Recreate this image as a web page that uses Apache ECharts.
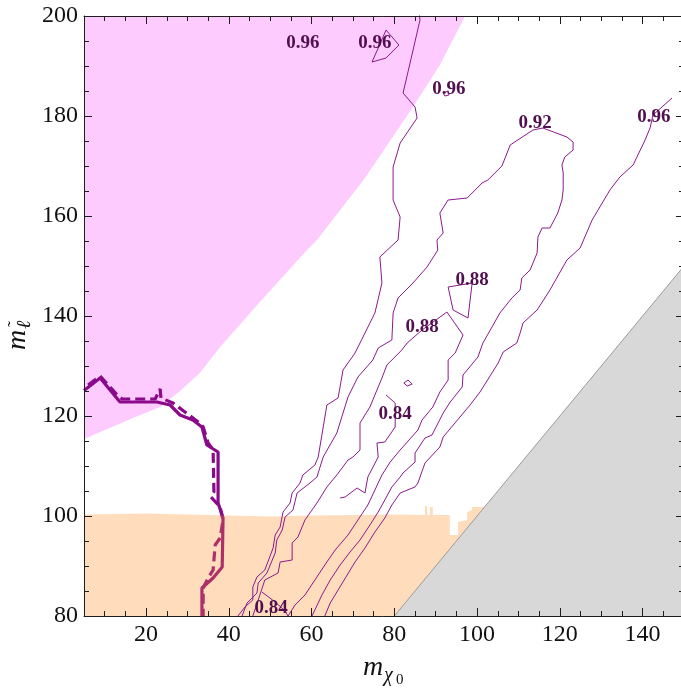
<!DOCTYPE html>
<html>
<head>
<meta charset="utf-8">
<script src="https://cdn.jsdelivr.net/npm/echarts@6/dist/echarts.min.js"></script>
<style>
html, body { margin: 0; padding: 0; background: #fff; }
#chart { width: 681px; height: 690px; }
</style>
</head>
<body>
<div id="chart"></div>
<script>
// Axis ranges and ticks
const xMin = 5, xMax = 150, yMin = 80, yMax = 200;
const xMajorTicks = [20, 40, 60, 80, 100, 120, 140];
const xMinorTicks = [10, 15, 25, 30, 35, 45, 50, 55, 65, 70, 75, 85, 90, 95, 105, 110, 115, 125, 130, 135, 145];

// Excluded / constrained regions (m_chi0, m_slepton)
const pinkRegion = [[5,115.4],[16.8,119.6],[23.4,121.8],[28.2,125.0],[33.0,128.6],[37.9,133.8],[47.5,142.8],[58.9,153.2],[61.3,155.2],[72.9,167.6],[84.5,181.8],[91.0,190.2],[97.1,200],[5,200]];
const orangeRegion = [[5,80],[5,100.3],[20,100.5],[30,100.3],[40,100.1],[50,99.9],[60,100.1],[70,100.2],[80,100.3],[87.4,100.2],[87.4,102],[87.9,102],[87.9,100.2],[88.6,100.2],[88.6,101.8],[89.3,101.8],[89.3,100.2],[93.4,100.2],[93.4,96.2],[95.4,96.2],[95.4,98.8],[97.6,99.2],[97.6,100.8],[98.8,101.2],[98.8,101.8],[102,101.8],[80,80]];
const greyRegion = [[80,80],[150,150],[150,80]];
const diagonalEdge = [[80,80],[150,150]];

// Limit curves (solid and dashed)
const boundarySolid = [[5,125.1],[8.9,127.6],[13.7,122.8],[22.6,122.8],[25.8,122.2],[28.2,120.2],[31.3,119.2],[33.5,117.8],[34.7,114.2],[37.4,112.8],[37.4,102.6],[38.6,99.6],[38.4,89.8],[36.2,87.6],[33.5,85.6],[33.5,80]];
const boundaryDashed = [[6.0,126.2],[8.9,128.0],[13.0,124.2],[14.2,123.4],[22.2,123.4],[23.4,125.4],[23.6,123.6],[26.5,122.6],[29.4,120.8],[32.6,118.8],[33.8,117.8],[35.0,114.6],[36.2,113.2],[36.4,104.8],[35.7,103.8],[37.9,101.8],[38.6,99.2],[37.9,95.6],[36.7,94.2],[36.2,89.2],[35.0,87.6],[33.8,85.6],[33.8,80]];

// Contour lines
const contour096Left = [[42.2,80.0],[43.9,81.8],[45.8,83.2],[45.8,85.8],[46.8,87.8],[48.7,89.2],[50.7,93.6],[51.2,96.2],[52.4,97.8],[53.1,100.8],[54.8,102.6],[55.3,104.6],[57.2,106.6],[57.9,108.2],[60.8,110.2],[61.6,111.8],[63.7,122.2],[66.4,123.6],[67.6,129.2],[70.5,132.6],[72.9,136.6],[75.3,140.6],[77.0,146.6],[76.5,151.8],[80.9,155.2],[81.4,159.8],[79.7,163.2],[79.7,169.8],[81.4,174.6],[85.5,179.6],[85.0,181.8],[82.1,184.6],[83.8,190.6],[86.2,199.2],[86.0,200.5]];
const contour092 = [[43.2,80.0],[44.4,82.6],[46.8,84.6],[47.1,86.6],[49.2,88.6],[51.2,92.6],[51.6,95.2],[52.9,97.2],[53.6,99.8],[55.5,101.2],[56.5,104.6],[59.6,106.6],[61.3,107.8],[62.8,111.8],[66.1,116.6],[68.8,123.8],[71.2,127.8],[74.8,131.2],[76.1,133.6],[79.4,135.2],[79.7,140.6],[80.9,143.6],[84.5,146.6],[87.9,149.8],[90.5,153.2],[90.3,155.2],[91.8,156.6],[91.0,160.6],[93.0,163.2],[97.6,163.6],[101.2,166.6],[102.6,167.2],[106.0,170.0],[108.0,174.2],[113.5,177.2],[115.9,177.6],[121.7,175.8],[123.2,174.8],[123.2,173.2],[121.2,171.8],[120.5,170.2],[120.8,168.6],[120.8,165.2],[120.5,163.2],[119.5,160.6],[117.6,157.6],[115.7,157.6],[114.7,155.8],[114.5,152.6],[112.8,149.2],[110.8,147.6],[110.4,145.2],[108.4,143.6],[105.5,140.6],[103.6,137.8],[101.4,134.6],[100.2,131.8],[96.6,128.2],[96.4,125.8],[93.5,122.8],[91.8,120.6],[89.1,116.2],[87.4,115.6],[85.0,112.6],[85.0,110.8],[82.1,108.6],[81.4,107.8],[79.4,105.8],[77.7,103.2],[76.1,100.8],[74.1,98.2],[71.7,95.2],[69.3,92.8],[66.9,90.2],[64.5,87.2],[62.5,84.2],[60.1,80.0]];
const contour096Right = [[147.1,183.6],[142.5,180.2],[141.8,177.6],[140.6,175.2],[137.7,170.2],[134.5,167.8],[132.1,165.2],[127.8,159.2],[124.9,153.6],[121.7,151.2],[117.6,145.2],[114.5,141.2],[111.1,138.6],[110.4,136.6],[109.6,134.6],[106.3,132.8],[105.1,130.6],[100.7,124.8],[98.3,122.2],[91.8,115.8],[91.0,113.8],[87.4,110.6],[85.7,106.6],[85.0,105.8],[81.4,104.6],[79.4,102.2],[77.7,99.6],[75.3,96.8],[72.9,93.6],[70.5,90.8],[68.6,88.2],[66.4,85.2],[64.5,82.6],[63.2,80.0]];
const contour088 = [[45.8,80.0],[47.1,83.2],[48.7,87.2],[51.9,88.6],[52.4,90.8],[55.3,91.2],[55.3,94.6],[56.7,95.8],[58.4,99.2],[61.3,102.6],[63.7,105.8],[66.1,108.2],[68.8,111.2],[70.0,111.8],[71.7,113.2],[71.7,118.6],[74.1,121.8],[77.0,127.6],[78.2,130.2],[81.8,133.2],[83.1,134.6],[86.7,137.2],[92.7,140.8],[96.6,136.2],[94.7,132.6],[93.0,131.2],[93.0,127.2],[91.0,124.8],[89.3,121.8],[86.7,119.2],[85.7,117.2],[81.4,113.2],[79.0,110.8],[77.0,108.2],[75.3,105.2],[73.6,102.2],[71.2,99.2],[68.8,96.2],[65.7,93.2],[63.2,90.2],[60.8,87.2],[58.4,84.2],[56.0,82.2],[54.3,80.0]];
const contour084Upper = [[78.0,124.2],[80.2,122.6],[80.2,117.8],[77.7,114.8],[75.8,114.6],[76.1,111.8],[73.6,107.8],[72.9,104.6],[71.0,105.6],[68.1,103.8],[66.9,103.6]];
const contour084Lower = [[48.0,84.8],[51.2,82.8],[53.6,81.0],[54.3,80.0]];
const island096 = [[78.0,197.2],[81.1,194.2],[78.0,191.6],[74.6,190.8],[76.1,193.6],[78.0,197.2]];
const speck096 = [[91.8,184.6],[93.0,185.0],[93.2,184.2],[92.2,184.0],[91.8,184.6]];
const island088 = [[93.0,145.8],[98.8,146.6],[97.8,139.6],[94.2,141.2],[93.0,145.8]];
const speck084 = [[82.3,126.6],[83.3,127.2],[84.3,126.4],[83.1,126.0],[82.3,126.6]];

// Contour level labels
const labelText = ['0.96', '0.96', '0.96', '0.92', '0.96', '0.88', '0.88', '0.84', '0.84'];
const labelX = [57.9, 75.3, 93.2, 114.0, 142.7, 98.8, 86.7, 80.2, 50.2];
const labelY = [194.6, 194.6, 185.4, 178.6, 179.8, 147.2, 137.8, 120.4, 81.6];

const contourLines = [contour096Left, contour092, contour096Right, contour088, contour084Upper, contour084Lower, island096, speck096, island088, speck084];

const contourColor = '#8b1a8b';
const boundaryColor = '#8a0a8a';
const frameColor = '#1e1e1e';
const serif = '"Liberation Serif", "DejaVu Serif", serif';

function region(points, style, z) {
  return {
    type: 'custom',
    coordinateSystem: 'cartesian2d',
    silent: true,
    clip: true,
    z: z,
    data: [points[0]],
    renderItem: function (params, api) {
      return {
        type: 'polygon',
        shape: { points: points.map(function (p) { return api.coord(p); }) },
        style: style
      };
    }
  };
}

function path(points, lineStyle, z) {
  return {
    type: 'line',
    data: points,
    symbol: 'none',
    showSymbol: false,
    silent: true,
    clip: true,
    z: z,
    lineStyle: lineStyle
  };
}

const series = [];
series.push(region(pinkRegion, { fill: '#fecbfe' }, 1));
series.push(path(boundarySolid, { color: boundaryColor, width: 3.2 }, 2));
series.push(path(boundaryDashed, { color: boundaryColor, width: 3.2, type: [10, 5] }, 2));
series.push(region(orangeRegion, { fill: 'rgba(255,140,30,0.3)' }, 3));
series.push(region(greyRegion, { fill: '#d8d8d8' }, 4));
series.push(path(diagonalEdge, { color: '#9a9a9a', width: 1 }, 4));
contourLines.forEach(function (pts) {
  series.push(path(pts, { color: contourColor, width: 1 }, 5));
});
series.push({
  type: 'scatter',
  silent: true,
  z: 6,
  symbolSize: 0,
  itemStyle: { opacity: 1 },
  data: labelX.map(function (x, i) { return [x, labelY[i]]; }),
  label: {
    show: true,
    position: 'inside',
    opacity: 1,
    formatter: function (p) { return labelText[p.dataIndex]; },
    fontFamily: serif,
    fontWeight: 'bold',
    fontSize: 19,
    color: '#520f4f'
  }
});

function xAxisDef(position, ticks, len, showLine, showLabel) {
  return {
    type: 'value', min: xMin, max: xMax, position: position, z: 10,
    axisLine: { show: showLine, onZero: false, lineStyle: { color: frameColor, width: 1 } },
    axisTick: { show: true, inside: true, length: len, customValues: ticks, lineStyle: { color: frameColor } },
    axisLabel: { show: showLabel, customValues: ticks, margin: 7, fontFamily: serif, fontSize: 24, color: '#111' },
    splitLine: { show: false }
  };
}
function yAxisDef(position, showLabel) {
  return {
    type: 'value', min: yMin, max: yMax, interval: 20, position: position, z: 10,
    axisLine: { show: true, onZero: false, lineStyle: { color: frameColor, width: 1 } },
    axisTick: { show: true, inside: true, length: 8, lineStyle: { color: frameColor } },
    minorTick: { show: true, splitNumber: 4, length: 5, lineStyle: { color: frameColor } },
    axisLabel: { show: showLabel, margin: 6, fontFamily: serif, fontSize: 24, color: '#111' },
    splitLine: { show: false },
    minorSplitLine: { show: false }
  };
}

const option = {
  animation: false,
  backgroundColor: '#fff',
  grid: { left: 84, right: -3, top: 16, bottom: 74, containLabel: false, outerBoundsMode: 'none' },
  xAxis: [
    xAxisDef('bottom', xMajorTicks, 8, true, true),
    xAxisDef('bottom', xMinorTicks, 5, false, false),
    xAxisDef('top', xMajorTicks, 8, true, false),
    xAxisDef('top', xMinorTicks, 5, false, false)
  ],
  yAxis: [
    yAxisDef('left', true),
    yAxisDef('right', false)
  ],
  graphic: [
    { type: 'text', x: 363, y: 668, silent: true,
      style: { text: 'm', font: 'italic 28px ' + serif, fill: '#111', align: 'left', verticalAlign: 'middle' } },
    { type: 'text', x: 384, y: 676, silent: true,
      style: { text: 'χ', font: 'italic 20px ' + serif, fill: '#111', align: 'left', verticalAlign: 'middle' } },
    { type: 'text', x: 396, y: 680, silent: true,
      style: { text: '0', font: '15px ' + serif, fill: '#111', align: 'left', verticalAlign: 'middle' } },
    { type: 'group', x: 18, y: 350, rotation: Math.PI / 2, silent: true,
      children: [
        { type: 'text', x: 0, y: 0,
          style: { text: 'm', font: 'italic 28px ' + serif, fill: '#111', align: 'left', verticalAlign: 'middle' } },
        { type: 'text', x: 21, y: 7,
          style: { text: 'ℓ', font: 'italic 20px ' + serif, fill: '#111', align: 'left', verticalAlign: 'middle' } },
        { type: 'text', x: 26, y: -2,
          style: { text: '˜', font: '18px ' + serif, fill: '#111', align: 'center', verticalAlign: 'middle' } }
      ] }
  ],
  series: series
};

const chart = echarts.init(document.getElementById('chart'), null, { renderer: 'canvas' });
chart.setOption(option);
</script>
</body>
</html>
